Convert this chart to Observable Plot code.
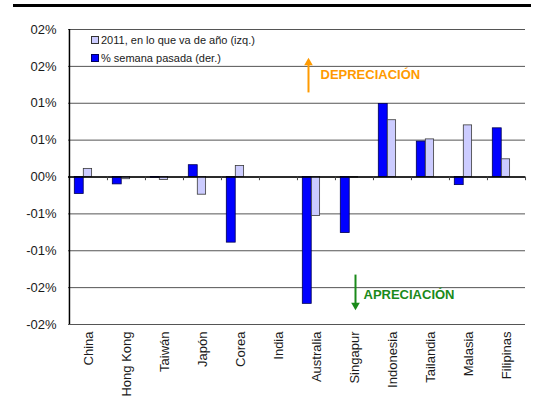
<!DOCTYPE html>
<html>
<head>
<meta charset="utf-8">
<script src="https://cdn.jsdelivr.net/npm/d3@7"></script>
<script src="https://cdn.jsdelivr.net/npm/@observablehq/plot@0.6"></script>
<style>
  html, body { margin: 0; padding: 0; background: #fff; }
  #wrap { position: relative; width: 538px; height: 405px; font-family: "Liberation Sans", Arial, sans-serif; }
  #topline { position: absolute; left: 13px; top: 4px; width: 518px; height: 3px; background: #000; }
  .leg { position: absolute; left: 91px; font-size: 11px; color: #1a1a1a; display: flex; align-items: center; white-space: nowrap; }
  .sw { display: inline-block; width: 6px; height: 6px; border: 1px solid #333; margin-right: 2px; }
</style>
</head>
<body>
<div id="wrap">
  <div id="chart"></div>
  <div id="topline"></div>
  <div class="leg" style="top:34px"><span class="sw" style="background:#ccccff"></span>2011, en lo que va de año (izq.)</div>
  <div class="leg" style="top:52px"><span class="sw" style="background:#0000ff;border-color:#000060"></span>% semana pasada (der.)</div>
</div>
<script>
// Countries along the x axis
const countries = ["China", "Hong Kong", "Taiwán", "Japón", "Corea", "India", "Australia",
  "Singapur", "Indonesia", "Tailandia", "Malasia", "Filipinas"];
// % change last week (der.)
const weekly = [-0.0023, -0.0010, -0.0001, 0.0016, -0.0089, 0, -0.0172, -0.0076, 0.0099, 0.0048, -0.0011, 0.0066];
// 2011 year-to-date change (izq.)
const ytd = [0.0011, -0.0003, -0.0004, -0.0024, 0.0015, 0, -0.0053, -0.0001, 0.0077, 0.0051, 0.0070, 0.0024];
// Y axis ticks and their printed labels
const yTicks = [-0.02, -0.015, -0.01, -0.005, 0, 0.005, 0.01, 0.015, 0.02];
const yTickLabels = ["-02%", "-02%", "-01%", "-01%", "00%", "01%", "01%", "02%", "02%"];

const rows = countries.map((c, i) => ({country: c, weekly: weekly[i], ytd: ytd[i]}));

const W = 538, H = 405, mL = 68, mR = 13, mT = 29, mB = 81;
const step = (W - mL - mR) / countries.length;

const chart = Plot.plot({
  width: W, height: H,
  marginLeft: mL, marginRight: mR, marginTop: mT, marginBottom: mB,
  style: {fontFamily: "'Liberation Sans', Arial, sans-serif", fontSize: "13px", color: "#1a1a1a", background: "transparent", overflow: "visible"},
  x: {domain: countries, padding: 0, tickSize: 0, tickRotate: -90, tickPadding: 7, label: null},
  y: {domain: [-0.02, 0.02], ticks: yTicks, tickFormat: d => yTickLabels[yTicks.indexOf(d)], tickSize: 0, tickPadding: 12, label: null},
  marks: [
    Plot.ruleY(yTicks, {stroke: "#555", strokeWidth: 1}),
    Plot.barY(rows, {x: "country", y: "weekly", fill: "#0000ff", stroke: "#000050", strokeWidth: 0.8,
      insetLeft: 5.3, insetRight: step - 14.3}),
    Plot.barY(rows, {x: "country", y: "ytd", fill: "#ccccff", stroke: "#3a3a3a", strokeWidth: 0.8,
      insetLeft: 14.3, insetRight: step - 22.7}),
    Plot.ruleY([0], {stroke: "#000", strokeWidth: 1.5}),
    // category boundary ticks below the zero line
    Plot.ruleX(countries, {x: d => d, y1: 0, y2: -0.0005, dx: -step / 2, stroke: "#444"}),
    Plot.ruleX([countries[countries.length - 1]], {x: d => d, y1: 0, y2: -0.0005, dx: step / 2, stroke: "#444"}),
    // left axis line
    Plot.ruleX([countries[0]], {x: d => d, dx: -step / 2, stroke: "#000", strokeWidth: 1.5}),
    // depreciation / appreciation annotations
    Plot.ruleX([{c: "Australia", a: 0.0114, b: 0.0153}], {x: "c", y1: "a", y2: "b", dx: -8, stroke: "#ff9a00", strokeWidth: 2}),
    Plot.dot([{c: "Australia", v: 0.0155}], {x: "c", y: "v", dx: -8, symbol: "triangle", r: 3.2, fill: "#ff9a00", stroke: "none"}),
    Plot.text([{c: "Australia", v: 0.0138, t: "DEPRECIACIÓN"}], {x: "c", y: "v", text: "t", dx: 4, textAnchor: "start",
      fill: "#ff9a00", fontWeight: "bold", fontSize: 13}),
    Plot.ruleX([{c: "Singapur", a: -0.0133, b: -0.0172}], {x: "c", y1: "a", y2: "b", dx: 1, stroke: "#1a8a1a", strokeWidth: 2}),
    Plot.dot([{c: "Singapur", v: -0.0174}], {x: "c", y: "v", dx: 1, symbol: "triangle", rotate: 180, r: 3.2, fill: "#1a8a1a", stroke: "none"}),
    Plot.text([{c: "Singapur", v: -0.0160, t: "APRECIACIÓN"}], {x: "c", y: "v", text: "t", dx: 9, textAnchor: "start",
      fill: "#1a8a1a", fontWeight: "bold", fontSize: 13})
  ]
});
document.getElementById("chart").appendChild(chart);
</script>
</body>
</html>
